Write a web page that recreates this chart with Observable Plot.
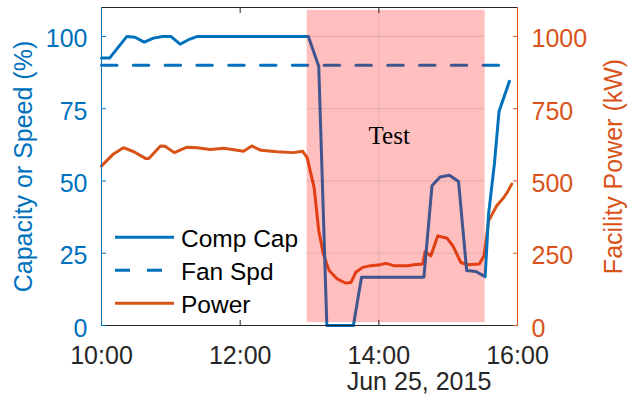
<!DOCTYPE html>
<html>
<head>
<meta charset="utf-8">
<script src="https://cdn.jsdelivr.net/npm/d3@7"></script>
<script src="https://cdn.jsdelivr.net/npm/@observablehq/plot@0.6"></script>
<style>
  body { margin: 0; background: #fff; }
  #wrap { position: relative; width: 633px; height: 402px; }
  #legend { position: absolute; left: 105px; top: 220px; }
</style>
</head>
<body>
<div id="wrap"></div>
<script>
// ---- data ----
const capTimes = ["10:00","10:07","10:22","10:29","10:37","10:45","10:53","11:00","11:08","11:16","11:23","12:59","13:08","13:15","13:38","13:45","14:39","14:46","14:53","15:01","15:09","15:16","15:24","15:32","15:35","15:40","15:44","15:53"];
const capValues = [92.5,92.5,100,99.7,98,99.4,100,100,97.3,99,100,100,89.7,0,0,16.7,16.7,48.3,51.4,52,49.8,19,18.7,16.9,38.6,55.9,74,84.5];

const fanTimes = ["10:00","15:45"];
const fanValues = [90,90];

const powerTimes = ["10:00","10:10","10:19","10:28","10:38","10:41","10:51","10:55","11:03","11:14","11:23","11:34","11:46","12:03","12:10","12:18","12:32","12:46","12:54","12:58","13:04","13:08","13:12","13:17","13:24","13:31","13:36","13:40","13:46","13:53","14:01","14:06","14:13","14:25","14:30","14:38","14:40","14:45","14:51","14:59","15:04","15:11","15:17","15:27","15:31","15:35","15:42","15:48","15:51","15:55"];
const powerValues = [552,592,615,601,578,578,621,620,598,617,615,609,613,603,621,606,601,598,603,580,477,328,247,190,161,147,149,184,201,207,210,215,207,207,210,213,255,241,310,302,276,218,210,213,241,362,414,442,460,489];

const testWindow = ["12:58","15:32"];
const testRange = [1, 109];
const testLabel = {text: "Test", time: "14:09", value: 65.6};
const gridValues = [25, 50, 75, 100];
const gridTimes = ["14:00"];

const xDomain = ["10:00","16:00"];
const xTickLabels = ["10:00","12:00","14:00","16:00"];
const innerXTicks = ["12:00","14:00"];
const leftDomain = [0, 110];
const rightDomain = [0, 1100];
const leftTicks = [0, 25, 50, 75, 100];
const rightTicks = [0, 250, 500, 750, 1000];
const dateLabel = "Jun 25, 2015";
const leftLabel = "Capacity or Speed (%)";
const rightLabel = "Facility Power (kW)";
const legendNames = ["Comp Cap", "Fan Spd", "Power"];

// ---- styling ----
const BLUE = "#0072BD", ORANGE = "#D95319", INK = "#262626";
const FONT = "'Liberation Sans', Arial, Helvetica, sans-serif";

const t = s => { const [h, m] = s.split(":").map(Number); return new Date(Date.UTC(2015, 5, 25, h, m)); };
const k = rightDomain[1] / leftDomain[1];

const cap = capTimes.map((s, i) => ({time: t(s), value: capValues[i]}));
const fan = fanTimes.map((s, i) => ({time: t(s), value: fanValues[i]}));
const power = powerTimes.map((s, i) => ({time: t(s), value: powerValues[i]}));

const chart = Plot.plot({
  width: 633, height: 402,
  marginLeft: 101, marginRight: 116, marginTop: 7, marginBottom: 77,
  style: {fontFamily: FONT, fontSize: "25px", background: "white", overflow: "visible"},
  x: {type: "utc", domain: xDomain.map(t)},
  y: {domain: leftDomain},
  marks: [
    // data lines
    Plot.line(power, {x: "time", y: d => d.value / k, stroke: ORANGE, strokeWidth: 3, strokeLinejoin: "round"}),
    Plot.line(cap, {x: "time", y: "value", stroke: BLUE, strokeWidth: 3, strokeLinejoin: "round"}),
    Plot.line(fan, {x: "time", y: "value", stroke: BLUE, strokeWidth: 3, strokeDasharray: "15.5,16.3"}),
    // test window shading on top
    Plot.rect([testWindow], {x1: d => t(d[0]), x2: d => t(d[1]), y1: testRange[0], y2: testRange[1], fill: "#ff0000", fillOpacity: 0.25}),
    Plot.ruleY(gridValues, {x1: t(testWindow[0]), x2: t(testWindow[1]), stroke: INK, strokeOpacity: 0.12}),
    Plot.ruleX(gridTimes.map(t), {y1: testRange[0], y2: testRange[1], stroke: INK, strokeOpacity: 0.12}),
    Plot.text([testLabel], {x: d => t(d.time), y: "value", text: "text", fontFamily: "'Liberation Serif', 'Times New Roman', serif", fontSize: 25, fill: "#000"}),
    // spines
    Plot.ruleY([leftDomain[1]], {stroke: INK}),
    Plot.ruleY([leftDomain[0]], {stroke: INK}),
    Plot.ruleX([t(xDomain[0])], {stroke: BLUE}),
    Plot.ruleX([t(xDomain[1])], {stroke: ORANGE}),
    // inward ticks
    Plot.axisX({anchor: "bottom", ticks: innerXTicks.map(t), tickSize: 5, dy: -5, fill: "none", stroke: INK, label: null}),
    Plot.axisX({anchor: "top", ticks: innerXTicks.map(t), tickSize: 5, dy: 5, fill: "none", stroke: INK, label: null}),
    Plot.axisY({anchor: "left", ticks: leftTicks, tickSize: 5, dx: 5, fill: "none", stroke: BLUE, label: null}),
    Plot.axisY({anchor: "right", ticks: rightTicks.map(v => v / k), tickSize: 5, dx: -5, fill: "none", stroke: ORANGE, label: null}),
    // tick labels
    Plot.axisX({anchor: "bottom", ticks: xTickLabels.map(t), tickSize: 0, tickPadding: 21, tickFormat: d3.utcFormat("%H:%M"), color: INK, label: null}),
    Plot.axisY({anchor: "left", ticks: leftTicks, tickSize: 0, tickPadding: 14, dy: 3, color: BLUE, label: null}),
    Plot.axisY({anchor: "right", ticks: rightTicks.map(v => v / k), tickSize: 0, tickPadding: 14, dy: 3, tickFormat: d => String(Math.round(d * k)), color: ORANGE, label: null}),
    // axis titles
    Plot.text([leftLabel], {frameAnchor: "left", dx: -77.5, rotate: -90, textAnchor: "middle", fill: BLUE, text: d => d}),
    Plot.text([rightLabel], {frameAnchor: "right", dx: 96, rotate: -90, textAnchor: "middle", fill: ORANGE, text: d => d}),
    Plot.text([dateLabel], {frameAnchor: "bottom", dx: 109.5, dy: 64.7, textAnchor: "middle", fill: INK, text: d => d})
  ]
});

const wrap = document.getElementById("wrap");
wrap.appendChild(chart);

// legend (inside the axes, lower left)
const legendStyles = [
  {stroke: BLUE, dash: null},
  {stroke: BLUE, dash: "15,17"},
  {stroke: ORANGE, dash: null}
];
const lg = d3.create("svg").attr("id", "legend").attr("width", 200).attr("height", 110)
  .style("font-family", FONT).style("font-size", "24.5px");
legendNames.forEach((name, i) => {
  const y = 17.3 + i * 33;
  lg.append("line").attr("x1", 10).attr("x2", 69).attr("y1", y).attr("y2", y)
    .attr("stroke", legendStyles[i].stroke).attr("stroke-width", 3)
    .attr("stroke-dasharray", legendStyles[i].dash);
  lg.append("text").attr("x", 76).attr("y", y + 9.2).attr("fill", "#000").text(name);
});
wrap.appendChild(lg.node());
</script>
</body>
</html>
